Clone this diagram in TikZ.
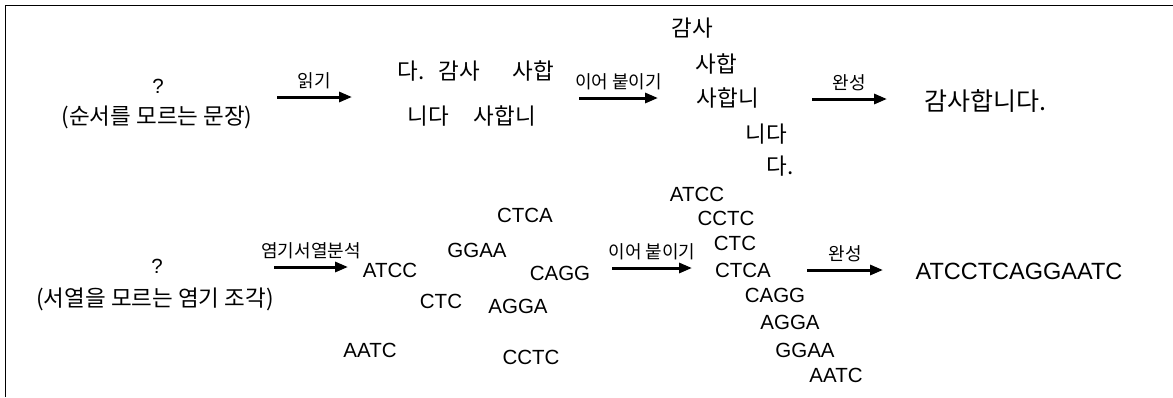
\documentclass[tikz,border=0pt]{standalone}
\usepackage{fontspec}
\setmainfont{Liberation Sans}
\newfontfamily\kr{Noto Sans CJK KR}
\usetikzlibrary{arrows.meta}
\tikzset{
	word/.style={
		inner sep=0pt,
		font=\kr\fontsize{22.5}{26}\selectfont,
	},
	base/.style={
		inner sep=0pt,
		font=\fontsize{20.5}{24}\selectfont,
	},
	tag/.style={
		inner sep=0pt,
		above=7pt,
		font=\kr\fontsize{18}{21}\selectfont,
	},
	pass/.style={
		->,
		line width=3pt,
	},
}
\begin{document}
\begin{tikzpicture}[x=1pt, y=-1pt, >={Triangle[length=13pt,width=10pt]}]
				\useasboundingbox (0,0) rectangle (1173,397);
				\draw[line width=1.6pt] (5.5,397) -- (5.5,5.5) -- (1173,5.5);
				
				% sentence row
				\node [base] (q1) at (158,86) {?};
				\node [word] (s1) at (157,117) {(순서를 모르는 문장)};
				\node [word] (w1) at (411,71) {다.};
				\node [word] (w2) at (459,71) {감사};
				\node [word] (w3) at (533,71) {사합};
				\node [word] (w4) at (428,116) {니다};
				\node [word] (w5) at (505,116) {사합니};
				\node [word] (j1) at (692,28) {감사};
				\node [word] (j2) at (716,64) {사합};
				\node [word] (j3) at (728,98) {사합니};
				\node [word] (j4) at (766,134) {니다};
				\node [word] (j5) at (780,166) {다.};
				\node [word, font=\kr\fontsize{25}{29}\selectfont] (done1) at (985,101) {감사합니다.};
				\coordinate (a1) at (277,97);
				\coordinate (b1) at (352,97);
				\coordinate (a2) at (579,98);
				\coordinate (b2) at (658,98);
				\coordinate (a3) at (812,99);
				\coordinate (b3) at (887,99);
				
				% fragment row
				\node [base] (q2) at (157,266) {?};
				\node [word] (s2) at (155,299) {(서열을 모르는 염기 조각)};
				\node [base] (r1) at (390,270) {ATCC};
				\node [base] (r2) at (370,350) {AATC};
				\node [base] (r3) at (525,215) {CTCA};
				\node [base] (r4) at (477,250) {GGAA};
				\node [base] (r5) at (560,273) {CAGG};
				\node [base] (r6) at (441,301) {CTC};
				\node [base] (r7) at (518,306) {AGGA};
				\node [base] (r8) at (531,357) {CCTC};
				\node [base] (c1) at (697,194) {ATCC};
				\node [base] (c2) at (726,218) {CCTC};
				\node [base] (c3) at (735,243) {CTC};
				\node [base] (c4) at (743,270) {CTCA};
				\node [base] (c5) at (775,295) {CAGG};
				\node [base] (c6) at (790,322) {AGGA};
				\node [base] (c7) at (805,350) {GGAA};
				\node [base] (c8) at (836,375) {AATC};
				\node [base, font=\fontsize{23.5}{28}\selectfont] (done2) at (1019,271) {ATCCTCAGGAATC};
				\coordinate (a4) at (274,267);
				\coordinate (b4) at (348,267);
				\coordinate (a5) at (612,268);
				\coordinate (b5) at (692,268);
				\coordinate (a6) at (807,270);
				\coordinate (b6) at (883,270);
				
				%arcs
				\draw[pass] (a1) -- node [tag] {읽기} (b1);
				\draw[pass] (a2) -- node [tag] {이어 붙이기} (b2);
				\draw[pass] (a3) -- node [tag] {완성} (b3);
				\draw[pass] (a4) -- node [tag] {염기서열분석} (b4);
				\draw[pass] (a5) -- node [tag] {이어 붙이기} (b5);
				\draw[pass] (a6) -- node [tag] {완성} (b6);
\end{tikzpicture}
\end{document}
